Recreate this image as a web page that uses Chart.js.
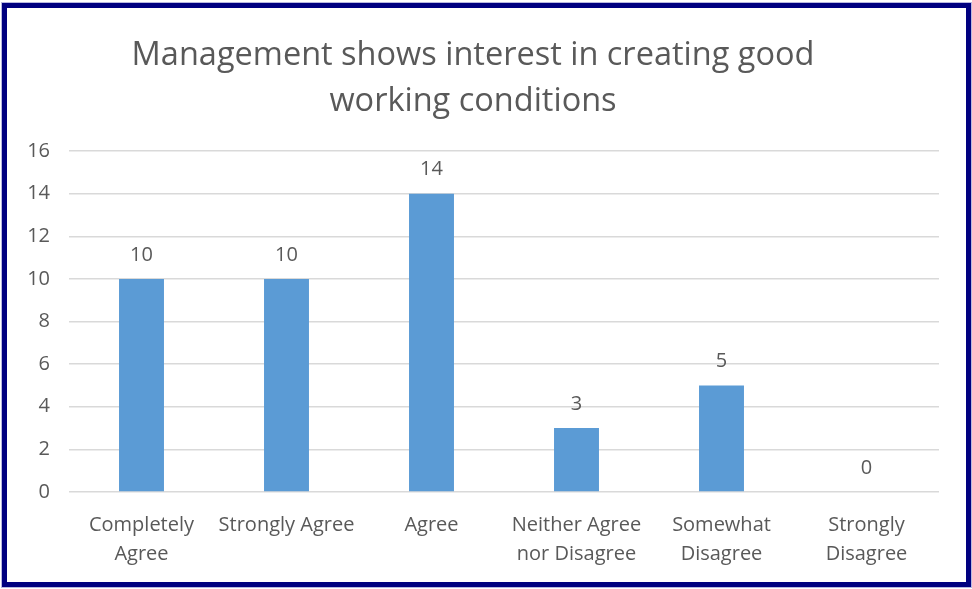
<!DOCTYPE html>
<html>
<head>
<meta charset="utf-8">
<script src="https://cdn.jsdelivr.net/npm/chart.js@4"></script>
<style>
  body { margin: 0; background: #ffffff; }
  .frame {
    position: absolute; left: 2px; top: 3px;
    width: 969px; height: 584px;
    box-sizing: border-box;
    border: 5px solid #000080;
    outline: 1px solid #b8b8e0;
    background: #ffffff;
  }
  #chart { display: block; }
</style>
</head>
<body>
<div class="frame"><canvas id="chart" width="959" height="574"></canvas></div>
<script>
// answers to the survey question
const answers = [
  ["Completely", "Agree"],
  "Strongly Agree",
  "Agree",
  ["Neither Agree", "nor Disagree"],
  ["Somewhat", "Disagree"],
  ["Strongly", "Disagree"]
];
const counts = [10, 10, 14, 3, 5, 0];
const titleLines = ["Management shows interest in creating good", "working conditions"];

const textColor = "#595959";
const fontName = "'Open Sans', sans-serif";

// write each bar's value above it
const valueLabels = {
  id: "valueLabels",
  afterDatasetsDraw(chart) {
    const ctx = chart.ctx;
    const meta = chart.getDatasetMeta(0);
    ctx.save();
    ctx.font = "20px " + fontName;
    ctx.fillStyle = textColor;
    ctx.textAlign = "center";
    ctx.textBaseline = "middle";
    meta.data.forEach((bar, i) => {
      ctx.fillText(String(counts[i]), bar.x, bar.y - 24);
    });
    ctx.restore();
  }
};

const ctx = document.getElementById("chart");
new Chart(ctx, {
  type: "bar",
  data: {
    labels: answers,
    datasets: [{
      data: counts,
      backgroundColor: "#5B9BD5",
      borderWidth: 0,
      categoryPercentage: 1,
      barPercentage: 0.31
    }]
  },
  options: {
    responsive: false,
    animation: false,
    layout: { padding: { top: 25, right: 27, bottom: 0, left: 0 } },
    plugins: {
      legend: { display: false },
      tooltip: { enabled: false },
      title: {
        display: true,
        text: titleLines,
        color: textColor,
        font: { family: fontName, size: 32.5, weight: "normal", lineHeight: 1.4 },
        padding: { top: 0, bottom: 27 }
      }
    },
    scales: {
      x: {
        grid: { display: false, drawTicks: false },
        border: { display: false },
        afterFit(scale) { scale.height = 90; },
        ticks: {
          color: textColor,
          font: { family: fontName, size: 20, lineHeight: 1.45 },
          padding: 19,
          maxRotation: 0,
          autoSkip: false
        }
      },
      y: {
        min: 0,
        max: 16,
        grid: { color: "#D9D9D9", lineWidth: 1.5, drawTicks: false },
        border: { display: false },
        afterFit(scale) { scale.width = 62; },
        ticks: {
          stepSize: 2,
          color: textColor,
          font: { family: fontName, size: 20 },
          padding: 19
        }
      }
    }
  },
  plugins: [valueLabels]
});
</script>
</body>
</html>
